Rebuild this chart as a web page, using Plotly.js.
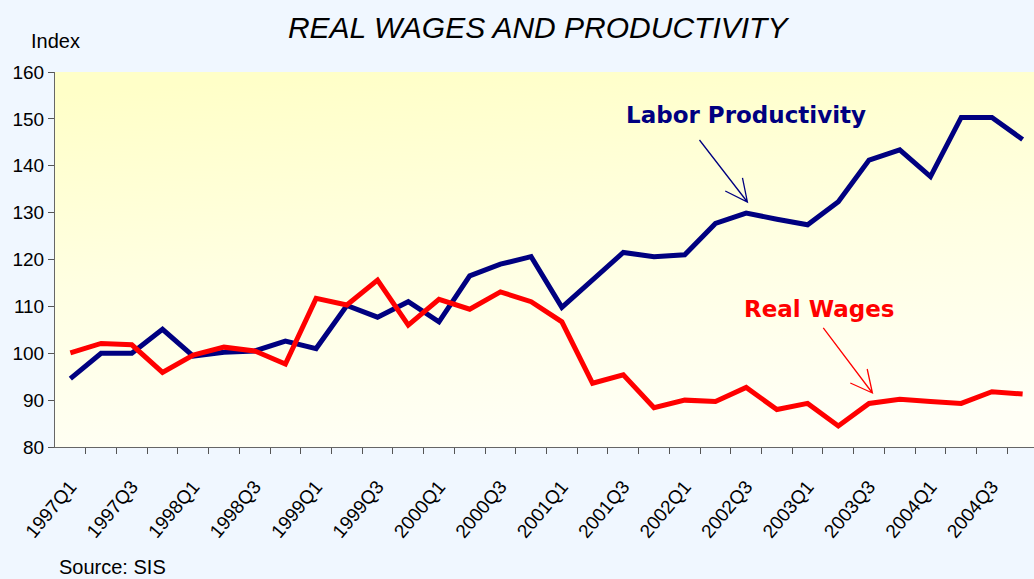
<!DOCTYPE html>
<html>
<head>
<meta charset="utf-8">
<script src="https://cdn.plot.ly/plotly-3.0.1.min.js"></script>
<style>
  html, body { margin: 0; padding: 0; background: #f0f7ff; overflow: hidden; }
  #chart { width: 1034px; height: 579px; }
</style>
</head>
<body>
<div id="chart"></div>
<script>
const categories = [
  "1997Q1","1997Q2","1997Q3","1997Q4",
  "1998Q1","1998Q2","1998Q3","1998Q4",
  "1999Q1","1999Q2","1999Q3","1999Q4",
  "2000Q1","2000Q2","2000Q3","2000Q4",
  "2001Q1","2001Q2","2001Q3","2001Q4",
  "2002Q1","2002Q2","2002Q3","2002Q4",
  "2003Q1","2003Q2","2003Q3","2003Q4",
  "2004Q1","2004Q2","2004Q3","2004Q4"
];
const laborProductivity = [
  94.6, 100.0, 100.0, 105.1, 99.4, 100.2, 100.5, 102.6,
  101.0, 110.2, 107.7, 111.0, 106.7, 116.5, 119.0, 120.6,
  109.8, 115.6, 121.5, 120.6, 121.0, 127.7, 129.9, 128.6,
  127.4, 132.3, 141.2, 143.4, 137.7, 150.3, 150.3, 145.6
];
const realWages = [
  100.1, 102.1, 101.8, 95.9, 99.6, 101.3, 100.5, 97.7,
  111.7, 110.3, 115.6, 106.0, 111.5, 109.4, 113.1, 111.0,
  106.7, 93.6, 95.4, 88.4, 90.0, 89.7, 92.7, 88.0,
  89.3, 84.5, 89.3, 90.2, 89.7, 89.3, 91.8, 91.3
];
const seriesNames = ["Labor Productivity", "Real Wages"];
const yTicks = [80, 90, 100, 110, 120, 130, 140, 150, 160];

const idx = categories.map((c, i) => i);
const labelIdx = idx.filter(i => i % 2 === 0);
const labelText = labelIdx.map(i => categories[i]);
const boundaries = idx.map(i => i + 0.5);

const sans = "Liberation Sans, Arial, sans-serif";
const boldFont = "Verdana, DejaVu Sans, sans-serif";

const gradSvg = '<svg xmlns="http://www.w3.org/2000/svg" width="100" height="100" viewBox="0 0 100 100" preserveAspectRatio="none">' +
  '<defs><linearGradient id="g" x1="0.3" y1="0" x2="0.5" y2="1">' +
  '<stop offset="0" stop-color="#ffffc8"/><stop offset="0.5" stop-color="#ffffe2"/><stop offset="1" stop-color="#fffff6"/>' +
  '</linearGradient></defs><rect x="0" y="0" width="100" height="100" fill="url(#g)"/></svg>';
const gradSrc = 'data:image/svg+xml;charset=utf-8,' + encodeURIComponent(gradSvg);

const traces = [
  {
    x: idx, y: laborProductivity, name: seriesNames[0], type: "scatter", mode: "lines",
    line: { color: "#000080", width: 5 }, hoverinfo: "skip"
  },
  {
    x: idx, y: realWages, name: seriesNames[1], type: "scatter", mode: "lines",
    line: { color: "#ff0000", width: 5 }, hoverinfo: "skip"
  }
];

const layout = {
  width: 1034, height: 579,
  margin: { l: 55, r: 0, t: 72, b: 132 },
  paper_bgcolor: "#f0f7ff",
  plot_bgcolor: "rgba(0,0,0,0)",
  showlegend: false,
  title: {
    text: "REAL WAGES AND PRODUCTIVITY",
    font: { family: sans, size: 30, color: "#000000", style: "italic" },
    x: 0.52, xanchor: "center", y: 0.952, yanchor: "middle", yref: "container"
  },
  xaxis: {
    type: "linear",
    range: [-0.5, 31.37],
    tickmode: "array", tickvals: labelIdx, ticktext: labelText,
    ticks: "", tickangle: -50, ticklabelstandoff: 20,
    tickfont: { family: sans, size: 19, color: "#000000" },
    minor: { tickmode: "array", tickvals: boundaries, ticks: "outside", ticklen: 6, tickcolor: "#555555", tickwidth: 1, showgrid: false },
    showline: true, linecolor: "#666666", linewidth: 1,
    showgrid: false, zeroline: false, fixedrange: true
  },
  yaxis: {
    range: [80, 160],
    tickmode: "array", tickvals: yTicks,
    ticks: "outside", ticklen: 6, tickcolor: "#555555",
    tickfont: { family: sans, size: 19, color: "#000000" },
    showline: true, linecolor: "#666666", linewidth: 1,
    showgrid: false, zeroline: false, fixedrange: true
  },
  images: [{
    source: gradSrc, xref: "paper", yref: "paper",
    x: 0, y: 1, sizex: 1, sizey: 1, sizing: "stretch",
    xanchor: "left", yanchor: "top", layer: "below"
  }],
  annotations: [
    { text: "Index", xref: "paper", yref: "paper", x: 0, y: 1.083, xanchor: "center", yanchor: "middle",
      showarrow: false, font: { family: sans, size: 20, color: "#000000" } },
    { text: "Source: SIS", xref: "paper", yref: "paper", x: 0.002, y: -0.32, xanchor: "left", yanchor: "middle",
      showarrow: false, font: { family: sans, size: 20, color: "#000000" } },
    { text: "<b>" + seriesNames[0] + "</b>", xref: "x", yref: "y", x: 22.0, y: 150.8, xanchor: "center", yanchor: "middle",
      showarrow: false, font: { family: boldFont, size: 23, color: "#000080" } },
    { text: "<b>" + seriesNames[1] + "</b>", xref: "x", yref: "y", x: 24.4, y: 109.4, xanchor: "center", yanchor: "middle",
      showarrow: false, font: { family: boldFont, size: 23, color: "#ff0000" } }
  ],
  shapes: [
    { type: "path", xref: "x", yref: "y",
      path: "M 20.48 145.49 L 22.04 132.27 M 21.32 134.61 L 22.04 132.27 L 21.88 137.39",
      line: { color: "#000080", width: 1.3 } },
    { type: "path", xref: "x", yref: "y",
      path: "M 24.51 105.39 L 26.11 91.52 M 25.39 93.65 L 26.11 91.52 L 25.94 96.64",
      line: { color: "#ff0000", width: 1.3 } }
  ]
};

Plotly.newPlot("chart", traces, layout, { staticPlot: true, displayModeBar: false });
</script>
</body>
</html>
